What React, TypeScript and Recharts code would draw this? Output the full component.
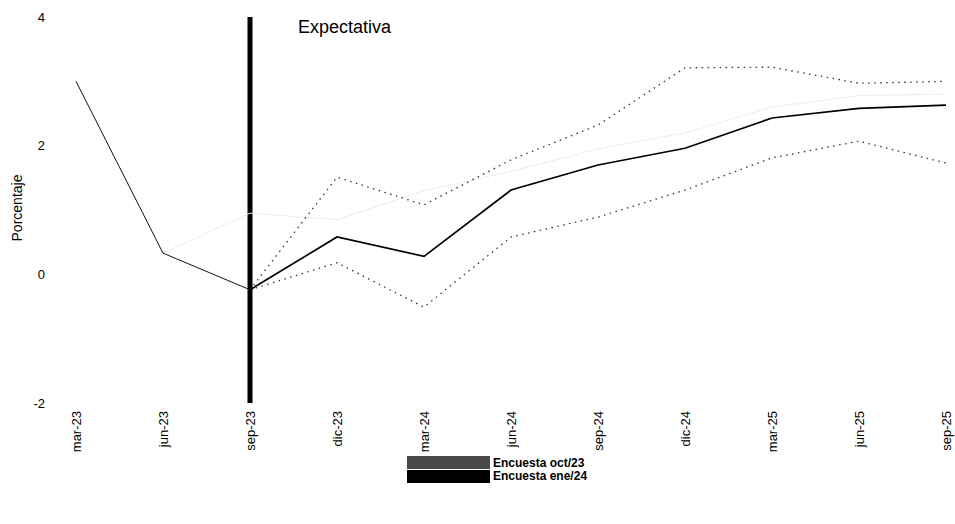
import React from 'react';
import { LineChart, Line, XAxis, YAxis, ReferenceLine, Label } from 'recharts';

const categories = ['mar-23', 'jun-23', 'sep-23', 'dic-23', 'mar-24', 'jun-24', 'sep-24', 'dic-24', 'mar-25', 'jun-25', 'sep-25'];
// Encuesta ene/24: observed part, expectation path, and its max / min bounds
const ene24Hist = [3.0, 0.33, -0.24, null, null, null, null, null, null, null, null];
const ene24 = [null, null, -0.24, 0.58, 0.28, 1.31, 1.7, 1.96, 2.43, 2.58, 2.63];
const ene24Max = [null, null, -0.24, 1.51, 1.08, 1.78, 2.32, 3.21, 3.22, 2.97, 3.0];
const ene24Min = [null, null, -0.24, 0.18, -0.51, 0.58, 0.89, 1.31, 1.81, 2.07, 1.73];
// Encuesta oct/23 (very faint in the scan)
const oct23 = [null, 0.33, 0.95, 0.85, 1.3, 1.6, 1.95, 2.2, 2.6, 2.78, 2.8];
const yTicks = [-2, 0, 2, 4];

const FONT = '"Liberation Sans", Arial, sans-serif';

const data = categories.map((c, i) => ({
  name: c,
  ene24Hist: ene24Hist[i],
  ene24: ene24[i],
  ene24Max: ene24Max[i],
  ene24Min: ene24Min[i],
  oct23: oct23[i],
}));

const legendItems = [
  { name: 'Encuesta oct/23', color: '#4a4a4a' },
  { name: 'Encuesta ene/24', color: '#000000' },
];

const XTick = ({ x, y, payload }: any) => (
  <text
    transform={`translate(${x},${y}) rotate(-90)`}
    textAnchor="end"
    dy="0.35em"
    fontSize={13}
    fontFamily={FONT}
    fill="#000"
  >
    {payload.value}
  </text>
);

const App = () => {
  return (
    <div style={{ position: 'absolute', left: 0, top: 0, width: 955, height: 524, background: '#fff' }}>
      <LineChart width={955} height={524} data={data} margin={{ top: 17, right: 9, left: 36, bottom: 61 }}>
        <XAxis
          dataKey="name"
          axisLine={false}
          tickLine={false}
          tickSize={0}
          tickMargin={8}
          height={60}
          interval={0}
          tick={<XTick />}
        />
        <YAxis
          domain={[-2, 4]}
          ticks={yTicks}
          width={40}
          axisLine={false}
          tickLine={false}
          tickSize={0}
          tickMargin={31}
          tick={{ fontSize: 13, fontFamily: FONT, fill: '#000' }}
        >
          <Label
            content={() => (
              <text
                transform="translate(22,208) rotate(-90)"
                textAnchor="middle"
                fontSize={14}
                fontFamily={FONT}
                fill="#000"
              >
                Porcentaje
              </text>
            )}
          />
        </YAxis>
        <ReferenceLine x="sep-23" stroke="#000" strokeWidth={5}>
          <Label
            content={({ viewBox }: any) => (
              <text x={viewBox.x + 48} y={viewBox.y + 16} fontSize={18} fontFamily={FONT} fill="#000">
                Expectativa
              </text>
            )}
          />
        </ReferenceLine>
        <Line dataKey="oct23" stroke="#ededed" strokeWidth={1} dot={false} isAnimationActive={false} />
        <Line
          dataKey="ene24Max"
          stroke="#333"
          strokeWidth={1.3}
          strokeDasharray="1.5 4.5"
          dot={false}
          isAnimationActive={false}
        />
        <Line
          dataKey="ene24Min"
          stroke="#333"
          strokeWidth={1.3}
          strokeDasharray="1.5 4.5"
          dot={false}
          isAnimationActive={false}
        />
        <Line dataKey="ene24Hist" stroke="#111" strokeWidth={1} dot={false} isAnimationActive={false} />
        <Line dataKey="ene24" stroke="#000" strokeWidth={1.7} dot={false} isAnimationActive={false} />
      </LineChart>

      <div style={{ position: 'absolute', left: 407, top: 456, fontFamily: FONT, fontSize: 12, fontWeight: 'bold' }}>
        {legendItems.map((item) => (
          <div key={item.name} style={{ display: 'flex', alignItems: 'center', height: 13.5 }}>
            <span style={{ display: 'inline-block', width: 83, height: 13, background: item.color, marginRight: 3 }}></span>
            <span>{item.name}</span>
          </div>
        ))}
      </div>
    </div>
  );
};

export default App;
